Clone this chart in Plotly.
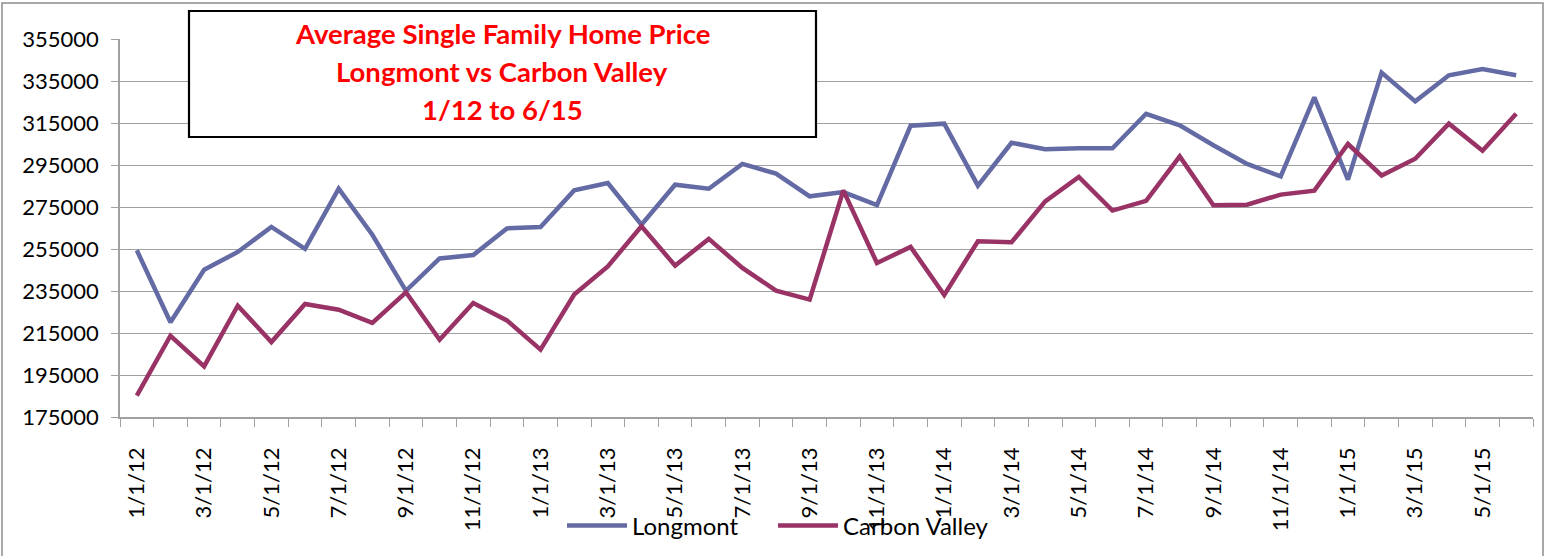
import plotly.graph_objects as go

# ---------------- data ----------------
dates = ["1/1/12", "2/1/12", "3/1/12", "4/1/12", "5/1/12", "6/1/12", "7/1/12", "8/1/12",
         "9/1/12", "10/1/12", "11/1/12", "12/1/12",
         "1/1/13", "2/1/13", "3/1/13", "4/1/13", "5/1/13", "6/1/13", "7/1/13", "8/1/13",
         "9/1/13", "10/1/13", "11/1/13", "12/1/13",
         "1/1/14", "2/1/14", "3/1/14", "4/1/14", "5/1/14", "6/1/14", "7/1/14", "8/1/14",
         "9/1/14", "10/1/14", "11/1/14", "12/1/14",
         "1/1/15", "2/1/15", "3/1/15", "4/1/15", "5/1/15", "6/1/15"]

longmont = [254400, 220100, 245100, 253600, 265500, 255100, 283700, 261800,
            235100, 250500, 252100, 264800,
            265500, 282900, 286400, 266600, 285600, 283700, 295500, 290900,
            280100, 282100, 275900, 313700,
            314700, 285200, 305600, 302500, 303000, 303000, 319400, 313900,
            304400, 295500, 289600, 327200,
            288000, 339000, 325300, 337700, 340700, 337700]

carbon_valley = [185200, 213700, 199100, 228000, 210700, 228800, 226100, 219800,
                 234400, 211800, 229300, 221000,
                 207100, 233300, 246700, 265800, 247100, 259800, 246000, 235200,
                 230900, 282900, 248300, 256000,
                 233100, 258700, 258200, 277700, 289300, 273300, 277900, 299100,
                 275800, 276100, 280900, 282800,
                 305000, 290000, 298000, 314700, 301800, 319400]

y_min, y_max, y_step = 175000, 355000, 20000
title_lines = ["Average Single Family Home Price", "Longmont vs Carbon Valley", "1/12 to 6/15"]

# ---------------- layout constants ----------------
W, H = 1547, 556
ML, MR, MT, MB = 120, 14, 39, 139
PW, PH = W - ML - MR, H - MT - MB

def px(x):
    return (x - ML) / PW

def py(y):
    return (H - MB - y) / PH

FONT = "Lato, 'Open Sans', sans-serif"
c_long = "#646AA3"
c_carb = "#993366"
grid = "#A0A0A0"

xs = list(range(len(dates)))

fig = go.Figure()
fig.add_trace(go.Scatter(x=xs, y=longmont, mode="lines", name="Longmont",
                         line=dict(color=c_long, width=4.5), legend="legend"))
fig.add_trace(go.Scatter(x=xs, y=carbon_valley, mode="lines", name="Carbon Valley",
                         line=dict(color=c_carb, width=4.5), legend="legend2"))

boundaries = [i - 0.5 for i in range(len(dates) + 1)]

fig.update_xaxes(
    range=[-0.5, len(dates) - 0.5],
    tickmode="array",
    tickvals=xs[::2],
    ticktext=dates[::2],
    tickangle=-90,
    ticks="",
    ticklabelstandoff=20,
    showgrid=False,
    zeroline=False,
    showline=True, linecolor=grid, linewidth=1.5,
    minor=dict(tickmode="array", tickvals=boundaries, ticks="outside", ticklen=8,
               tickcolor=grid, tickwidth=1.2, showgrid=False),
    tickfont=dict(family=FONT, size=22, color="#000000"),
    automargin=False,
)
fig.update_yaxes(
    range=[y_min, y_max],
    tickmode="linear", tick0=y_min, dtick=y_step,
    tickformat="d",
    ticks="outside", ticklen=7, tickcolor=grid, tickwidth=1.2,
    ticklabelstandoff=8,
    showgrid=True, gridcolor=grid, gridwidth=1.2,
    zeroline=False,
    showline=True, linecolor=grid, linewidth=1.5,
    tickfont=dict(family=FONT, size=22, color="#000000"),
    automargin=False,
)

shapes = [
    # outer chart border
    dict(type="rect", xref="paper", yref="paper",
         x0=px(2), x1=px(1543), y0=py(560), y1=py(3),
         line=dict(color="#8C8C8C", width=1.5), fillcolor="rgba(0,0,0,0)", layer="below"),
    # title box
    dict(type="rect", xref="paper", yref="paper",
         x0=px(189), x1=px(816), y0=py(137), y1=py(11),
         line=dict(color="#000000", width=2.2), fillcolor="#FFFFFF", layer="above"),
]

annotations = []
for line_text, yc in zip(title_lines, [33, 71, 109]):
    annotations.append(dict(text=f"<b>{line_text}</b>", xref="paper", yref="paper",
                            x=px(502), y=py(yc), xanchor="center", yanchor="middle",
                            showarrow=False,
                            font=dict(family=FONT, size=27.5, color="#FF0000")))

leg_common = dict(orientation="h", yanchor="middle", y=py(526), xanchor="left",
                  font=dict(family=FONT, size=24, color="#000000"),
                  itemwidth=60, bgcolor="rgba(0,0,0,0)")

fig.update_layout(
    width=W, height=H,
    margin=dict(l=ML, r=MR, t=MT, b=MB, pad=0, autoexpand=False),
    paper_bgcolor="#FFFFFF", plot_bgcolor="#FFFFFF",
    shapes=shapes, annotations=annotations,
    showlegend=True,
    legend=dict(x=px(562), **leg_common),
    legend2=dict(x=px(773), **leg_common),
)

fig.write_html("out.html", config={"displayModeBar": False},
               post_script="document.body.style.margin='0';document.body.style.padding='0';")
